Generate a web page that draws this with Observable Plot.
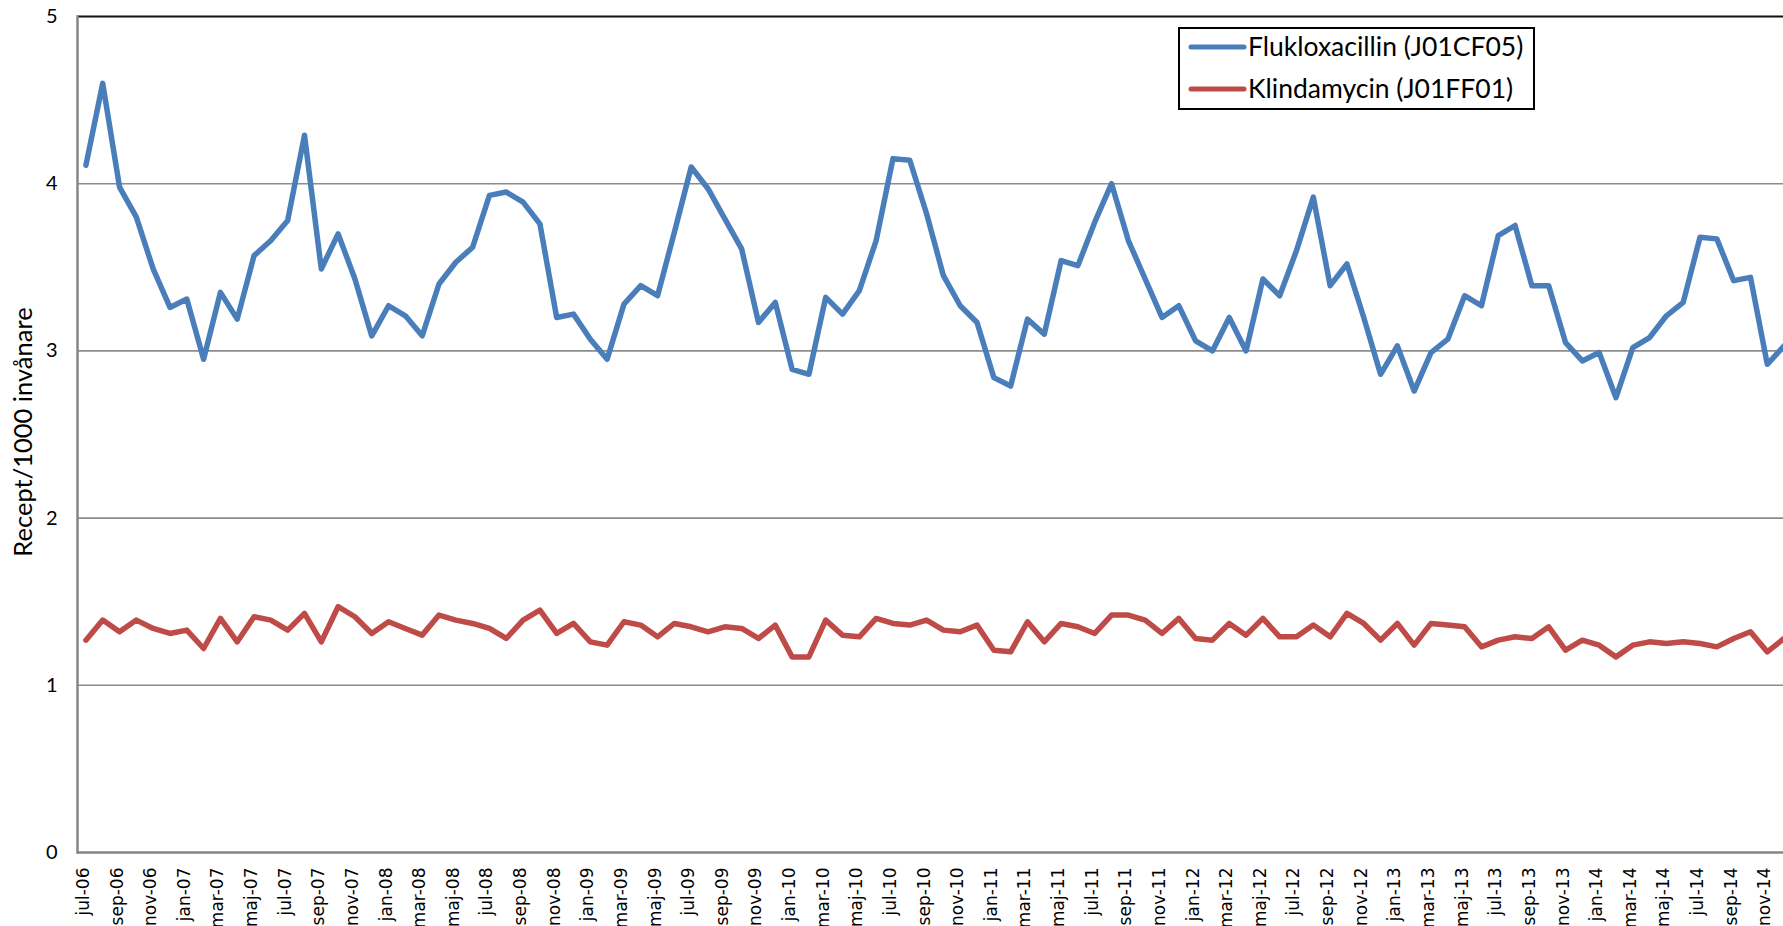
<!DOCTYPE html>
<html>
<head>
<meta charset="utf-8">
<script src="https://cdn.jsdelivr.net/npm/d3@7"></script>
<script src="https://cdn.jsdelivr.net/npm/@observablehq/plot@0.6"></script>
<style>
  html, body { margin: 0; padding: 0; background: #fff; overflow: hidden; }
  #wrap { position: relative; width: 1792px; height: 926px; }
  #ytitle { position: absolute; left: 22px; top: 432px; transform: translate(-50%, -50%) rotate(-90deg);
            font-family: Lato, "Liberation Sans", sans-serif; font-size: 25.5px; color: #000; white-space: nowrap; }
  #legend { position: absolute; left: 1178px; top: 27px; width: 357px; height: 83px; box-sizing: border-box;
            border: 2px solid #000; background: #fff; }
</style>
</head>
<body>
<div id="wrap">
  <div id="chart"></div>
  <div id="ytitle">Recept/1000 invånare</div>
  <div id="legend"></div>
</div>
<script>
// Category labels (Swedish month abbreviations) and the span of the series
const monthNames = ["jan","feb","mar","apr","maj","jun","jul","aug","sep","okt","nov","dec"];
const startYear = 2006, startMonth = 6; // jul-06 (0-based month index)
const nMonths = 102;                    // jul-06 .. dec-14

const seriesNames = ["Flukloxacillin (J01CF05)", "Klindamycin (J01FF01)"];
const seriesColors = ["#4a7ebb", "#be4b48"];
const yTicks = [0, 1, 2, 3, 4, 5];

// Recept/1000 invånare per month, jul-06 .. dec-14
const flukloxacillin = [
  4.11, 4.60, 3.98, 3.80, 3.49, 3.26,
  3.31, 2.95, 3.35, 3.19, 3.57, 3.66, 3.78, 4.29, 3.49, 3.70, 3.43, 3.09,
  3.27, 3.21, 3.09, 3.40, 3.53, 3.62, 3.93, 3.95, 3.89, 3.76, 3.20, 3.22,
  3.07, 2.95, 3.28, 3.39, 3.33, 3.71, 4.10, 3.97, 3.79, 3.61, 3.17, 3.29,
  2.89, 2.86, 3.32, 3.22, 3.36, 3.66, 4.15, 4.14, 3.82, 3.45, 3.27, 3.17,
  2.84, 2.79, 3.19, 3.10, 3.54, 3.51, 3.77, 4.00, 3.66, 3.43, 3.20, 3.27,
  3.06, 3.00, 3.20, 3.00, 3.43, 3.33, 3.60, 3.92, 3.39, 3.52, 3.20, 2.86,
  3.03, 2.76, 2.99, 3.07, 3.33, 3.27, 3.69, 3.75, 3.39, 3.39, 3.05, 2.94,
  2.99, 2.72, 3.02, 3.08, 3.21, 3.29, 3.68, 3.67, 3.42, 3.44, 2.92, 3.03
];
const klindamycin = [
  1.27, 1.39, 1.32, 1.39, 1.34, 1.31,
  1.33, 1.22, 1.40, 1.26, 1.41, 1.39, 1.33, 1.43, 1.26, 1.47, 1.41, 1.31,
  1.38, 1.34, 1.30, 1.42, 1.39, 1.37, 1.34, 1.28, 1.39, 1.45, 1.31, 1.37,
  1.26, 1.24, 1.38, 1.36, 1.29, 1.37, 1.35, 1.32, 1.35, 1.34, 1.28, 1.36,
  1.17, 1.17, 1.39, 1.30, 1.29, 1.40, 1.37, 1.36, 1.39, 1.33, 1.32, 1.36,
  1.21, 1.20, 1.38, 1.26, 1.37, 1.35, 1.31, 1.42, 1.42, 1.39, 1.31, 1.40,
  1.28, 1.27, 1.37, 1.30, 1.40, 1.29, 1.29, 1.36, 1.29, 1.43, 1.37, 1.27,
  1.37, 1.24, 1.37, 1.36, 1.35, 1.23, 1.27, 1.29, 1.28, 1.35, 1.21, 1.27,
  1.24, 1.17, 1.24, 1.26, 1.25, 1.26, 1.25, 1.23, 1.28, 1.32, 1.20, 1.28
];

const months = [];
for (let i = 0; i < nMonths; i++) {
  const m = (startMonth + i) % 12;
  const y = startYear + Math.floor((startMonth + i) / 12);
  months.push(monthNames[m] + "-" + String(y % 100).padStart(2, "0"));
}
const tickMonths = months.filter((d, i) => i % 2 === 0);

const data = [];
months.forEach((m, i) => {
  data.push({month: m, value: flukloxacillin[i], series: seriesNames[0]});
});
months.forEach((m, i) => {
  data.push({month: m, value: klindamycin[i], series: seriesNames[1]});
});

const chart = Plot.plot({
  width: 1792,
  height: 926,
  marginLeft: 77,
  marginRight: 0,
  marginTop: 16,
  marginBottom: 74,
  style: {fontFamily: "Lato, 'Liberation Sans', sans-serif", background: "#fff", color: "#000"},
  x: {type: "point", domain: months, padding: 0.5, axis: null},
  y: {domain: [0, 5], axis: null},
  color: {domain: seriesNames, range: seriesColors},
  marks: [
    Plot.ruleY(yTicks.filter(d => d > 0 && d < 5), {stroke: "#8c8c8c", strokeWidth: 1.6}),
    Plot.ruleY([5], {stroke: "#111", strokeWidth: 2}),
    Plot.ruleY([0], {stroke: "#868686", strokeWidth: 2.5}),
    Plot.frame({anchor: "left", stroke: "#868686", strokeWidth: 2.5}),
    Plot.line(data, {x: "month", y: "value", z: "series", stroke: "series", strokeWidth: 5.5, strokeLinejoin: "round"}),
    // y tick labels
    Plot.text(yTicks, {y: d => d, text: d => String(d), frameAnchor: "left", dx: -20, textAnchor: "end",
                       fontFamily: "Lato, 'Liberation Sans', sans-serif", fontSize: 20, fill: "#000"}),
    // x tick labels (every second month), rotated
    Plot.text(tickMonths, {x: d => d, text: d => d, frameAnchor: "bottom", dx: 3, dy: 15, rotate: -90, textAnchor: "end",
                           fontFamily: "'DejaVu Sans', sans-serif", fontSize: 17, fill: "#000"})
  ]
});
document.getElementById("chart").appendChild(chart);

// Legend
const lg = d3.select("#legend").append("svg").attr("width", 353).attr("height", 79)
  .style("position", "absolute").style("left", "0px").style("top", "0px");
seriesNames.forEach((name, i) => {
  const cy = 18 + i * 42;
  lg.append("line").attr("x1", 11).attr("x2", 64).attr("y1", cy).attr("y2", cy)
    .attr("stroke", seriesColors[i]).attr("stroke-width", 5).attr("stroke-linecap", "round");
  lg.append("text").attr("x", 68).attr("y", cy + 9).text(name)
    .attr("font-family", "Lato, 'Liberation Sans', sans-serif").attr("font-size", 26.5).attr("fill", "#000");
});
</script>
</body>
</html>
